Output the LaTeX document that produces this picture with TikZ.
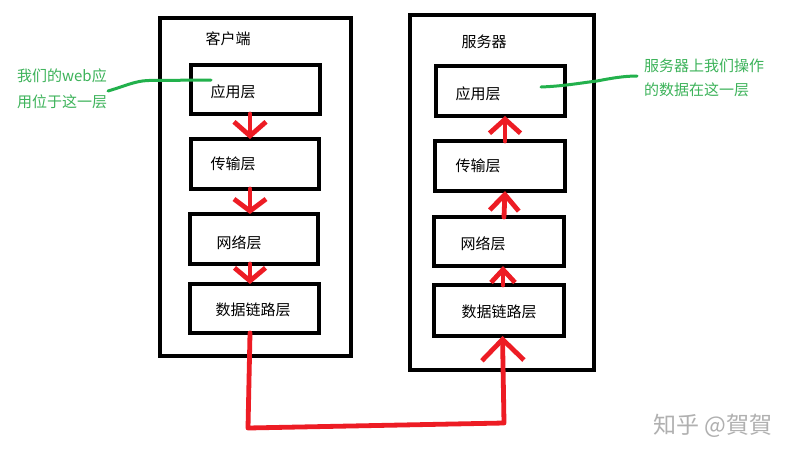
\documentclass[tikz,border=0pt]{standalone}
\usepackage{fontspec}
\setmainfont{Noto Sans CJK SC}
\usetikzlibrary{arrows.meta}
\definecolor{pred}{HTML}{ED1C24}
\definecolor{pgreen}{HTML}{22B14C}
\definecolor{ptext}{HTML}{3DB35A}
\definecolor{wmgray}{HTML}{B0B0B0}
\begin{document}
\begin{tikzpicture}[x=1pt,y=-1pt,
  outerbox/.style={draw=black,line width=4.8pt,inner sep=0pt,outer sep=0pt},
  layerbox/.style={draw=black,line width=4.5pt,inner sep=0pt,outer sep=0pt},
  lbl/.style={font=\fontsize{15pt}{18pt}\selectfont,inner sep=0pt,text=black},
  note/.style={font=\fontsize{15pt}{18pt}\selectfont,inner sep=0pt,text=ptext,anchor=west},
  redarrow/.style={draw=pred,line width=4.8pt,line cap=round,line join=round},
  greenline/.style={draw=pgreen,line width=3pt,line cap=round},
]
\useasboundingbox (0,0) rectangle (795,459);
\fill[white] (0,0) rectangle (795,459);

% outer boxes
\node[outerbox,minimum width=191pt,minimum height=338pt] (client) at (255.5,187) {};
\node[outerbox,minimum width=184pt,minimum height=355pt] (server) at (502,192.5) {};
\node[lbl] (ctitle) at (228,39) {客户端};
\node[lbl] (stitle) at (484,42) {服务器};

% client layers
\node[layerbox,minimum width=129pt,minimum height=49pt] (capp) at (255.5,89.5) {};
\node[layerbox,minimum width=128pt,minimum height=50pt] (ctrans) at (255,164) {};
\node[layerbox,minimum width=128pt,minimum height=50pt] (cnet) at (254,239) {};
\node[layerbox,minimum width=129pt,minimum height=49pt] (clink) at (254.5,308.5) {};
\node[lbl] (cappt) at (233,92) {应用层};
\node[lbl] (ctranst) at (233,164) {传输层};
\node[lbl] (cnett) at (239,243) {网络层};
\node[lbl] (clinkt) at (253,310) {数据链路层};

% server layers
\node[layerbox,minimum width=129pt,minimum height=50pt] (sapp) at (500.5,91) {};
\node[layerbox,minimum width=130pt,minimum height=50pt] (strans) at (500,166) {};
\node[layerbox,minimum width=130pt,minimum height=49pt] (snet) at (499,241.5) {};
\node[layerbox,minimum width=130pt,minimum height=51pt] (slink) at (499,310.5) {};
\node[lbl] (sappt) at (478,94) {应用层};
\node[lbl] (stranst) at (478,166) {传输层};
\node[lbl] (snett) at (483,244) {网络层};
\node[lbl] (slinkt) at (499,312) {数据链路层};

% client arrows (down)
\draw[redarrow,-{Straight Barb[length=14pt,width=32pt]}] ([xshift=-5.5pt]capp.south) -- ([xshift=-5pt]ctrans.north);
\draw[redarrow,-{Straight Barb[length=12pt,width=32pt]}] ([xshift=-5pt]ctrans.south) -- ([xshift=-4pt]cnet.north);
\draw[redarrow,-{Straight Barb[length=13pt,width=31pt]}] ([xshift=-4pt]cnet.south) -- ([xshift=-4.5pt]clink.north);

% server arrows (up)
\draw[redarrow,-{Straight Barb[length=14pt,width=31pt]}] ([xshift=5pt]strans.north) -- ([xshift=4.5pt]sapp.south);
\draw[redarrow,-{Straight Barb[length=16pt,width=29pt]}] ([xshift=5pt]snet.north) -- ([xshift=5pt]strans.south);
\draw[redarrow,-{Straight Barb[length=13pt,width=24pt]}] ([xshift=4pt]slink.north) -- ([xshift=4pt]snet.south);

% link connector
\coordinate (b1) at (248,428);
\coordinate (b2) at (504,423);
\draw[redarrow,-{Straight Barb[length=21pt,width=42pt]}] ([xshift=-4.5pt]clink.south) -- (b1) -- (b2) -- ([xshift=3.5pt]slink.south);

% notes
\node[note] (n1a) at (17,76) {我们的web应};
\node[note] (n1b) at (17,102) {用位于这一层};
\node[note] (n2a) at (644,66) {服务器上我们操作};
\node[note] (n2b) at (644,90) {的数据在这一层};
\coordinate (g1) at (108,91);
\coordinate (g1e) at (211,80);
\draw[greenline] (g1) .. controls (125,86) and (135,81) .. (148,80.5) -- (g1e);
\coordinate (g2) at (541,87);
\coordinate (g2e) at (637,76);
\draw[greenline] (g2) .. controls (565,86) and (580,83) .. (597,81) .. controls (612,78) and (625,76) .. (g2e);

% watermark
\node[font=\fontsize{23pt}{27pt}\selectfont,text=wmgray,inner sep=0pt] (wm) at (713,426) {知乎 @賀賀};
\end{tikzpicture}
\end{document}
